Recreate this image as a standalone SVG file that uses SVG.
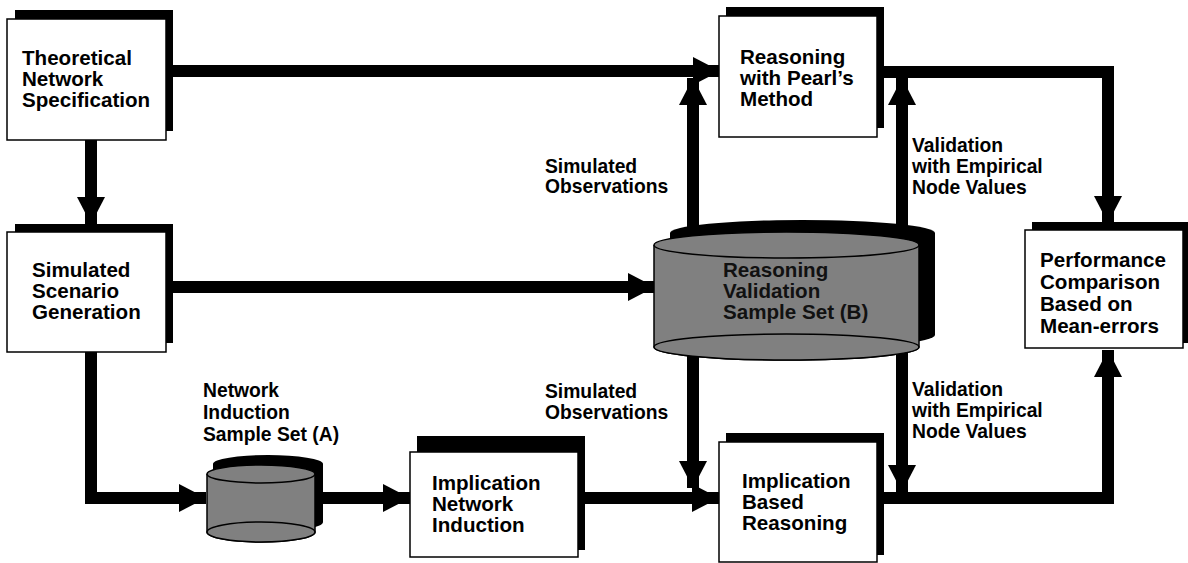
<svg xmlns="http://www.w3.org/2000/svg" width="1188" height="563" viewBox="0 0 1188 563">
<style>
.bg{fill:#fff}
.sh{fill:#000}
.box{fill:#fff;stroke:#000;stroke-width:1.5}
.cyl{fill:#808080;stroke:#000;stroke-width:1.5}
.t{font-family:"Liberation Sans",Arial,Helvetica,sans-serif;font-weight:bold;font-size:20.6px;fill:#000}
.l{font-family:"Liberation Sans",Arial,Helvetica,sans-serif;font-weight:bold;font-size:19.3px;fill:#000}
.ct{font-family:"Liberation Sans",Arial,Helvetica,sans-serif;font-weight:bold;font-size:20.6px;fill:#111}
.c{fill:none;stroke:#000;stroke-width:12;stroke-linejoin:miter;marker-end:url(#ah)}
</style>
<defs>
<marker id="ah" markerUnits="userSpaceOnUse" markerWidth="27" markerHeight="28" viewBox="0 0 27 28" refX="27" refY="14" orient="auto">
<path d="M0,0 L27,14 L0,28 Z" fill="#000"/>
</marker>
</defs>
<rect class="bg" x="0" y="0" width="1188" height="563"/>
<g id="connectors">
<path class="c" d="M166,71 H720"/>
<path class="c" d="M91,140 V224"/>
<path class="c" d="M166,287 H655"/>
<path class="c" d="M91,352 V498 H206"/>
<path class="c" d="M315,498 H410"/>
<path class="c" d="M578,498 H719"/>
<path class="c" d="M693,240 V78"/>
<path class="c" d="M693,350 V488"/>
<path class="c" d="M902,240 V78"/>
<path class="c" d="M902,350 V492"/>
<path class="c" d="M877,72 H1108 V223"/>
<path class="c" d="M877,498 H1108 V350"/>
</g>
<g id="theoretical">
<rect class="sh" x="15" y="10" width="158" height="121"/>
<rect class="box" x="7" y="19" width="159" height="121"/>
<text class="t"><tspan x="22" y="65">Theoretical</tspan><tspan x="22" y="86">Network</tspan><tspan x="22" y="107">Specification</tspan></text>
</g>
<g id="scenario">
<rect class="sh" x="15" y="224" width="158" height="119"/>
<rect class="box" x="7" y="232" width="159" height="120"/>
<text class="t"><tspan x="32" y="277">Simulated</tspan><tspan x="32" y="298">Scenario</tspan><tspan x="32" y="319">Generation</tspan></text>
</g>
<g id="pearl">
<rect class="sh" x="726" y="7" width="158" height="121"/>
<rect class="box" x="719" y="16" width="158" height="121"/>
<text class="t"><tspan x="740" y="64">Reasoning</tspan><tspan x="740" y="85">with Pearl’s</tspan><tspan x="740" y="106">Method</tspan></text>
</g>
<g id="performance">
<rect class="sh" x="1032" y="222" width="156" height="121"/>
<rect class="box" x="1025" y="230" width="158" height="118"/>
<text class="t"><tspan x="1040" y="267">Performance</tspan><tspan x="1040" y="289">Comparison</tspan><tspan x="1040" y="311">Based on</tspan><tspan x="1040" y="333">Mean-errors</tspan></text>
</g>
<g id="setB">
<path class="sh" d="M670,233 A132.5,13 0 0 1 935,233 V335 A132.5,13 0 0 1 670,335 Z"/>
<path class="cyl" d="M654,245 V347 A132.5,13 0 0 0 919,347 V245"/>
<ellipse class="cyl" cx="786.5" cy="245" rx="132.5" ry="13"/>
<ellipse class="cyl" cx="786.5" cy="347" rx="132.5" ry="13"/>
<text class="ct"><tspan x="723" y="277">Reasoning</tspan><tspan x="723" y="298">Validation</tspan><tspan x="723" y="319">Sample Set (B)</tspan></text>
</g>
<g id="setA">
<path class="sh" d="M213,464 A55,9 0 0 1 323,464 V522 A55,10 0 0 1 213,522 Z"/>
<path class="cyl" d="M207,474 V532 A54,10 0 0 0 315,532 V474"/>
<ellipse class="cyl" cx="261" cy="474" rx="54" ry="9"/>
<ellipse class="cyl" cx="261" cy="532" rx="54" ry="10"/>
</g>
<g id="induction">
<rect class="sh" x="417" y="436" width="168" height="114"/>
<rect class="box" x="410" y="452" width="168" height="105"/>
<text class="t"><tspan x="432" y="490">Implication</tspan><tspan x="432" y="511">Network</tspan><tspan x="432" y="532">Induction</tspan></text>
</g>
<g id="implreasoning">
<rect class="sh" x="726" y="433" width="158" height="122"/>
<rect class="box" x="719" y="442" width="158" height="120"/>
<text class="t"><tspan x="742" y="488">Implication</tspan><tspan x="742" y="509">Based</tspan><tspan x="742" y="530">Reasoning</tspan></text>
</g>
<g id="labels">
<text class="l"><tspan x="203" y="397">Network</tspan><tspan x="203" y="419">Induction</tspan><tspan x="203" y="441">Sample Set (A)</tspan></text>
<text class="l"><tspan x="545" y="173">Simulated</tspan><tspan x="545" y="193">Observations</tspan></text>
<text class="l"><tspan x="912" y="152">Validation</tspan><tspan x="912" y="173">with Empirical</tspan><tspan x="912" y="194">Node Values</tspan></text>
<text class="l"><tspan x="545" y="398">Simulated</tspan><tspan x="545" y="419">Observations</tspan></text>
<text class="l"><tspan x="912" y="396">Validation</tspan><tspan x="912" y="417">with Empirical</tspan><tspan x="912" y="438">Node Values</tspan></text>
</g>
</svg>
